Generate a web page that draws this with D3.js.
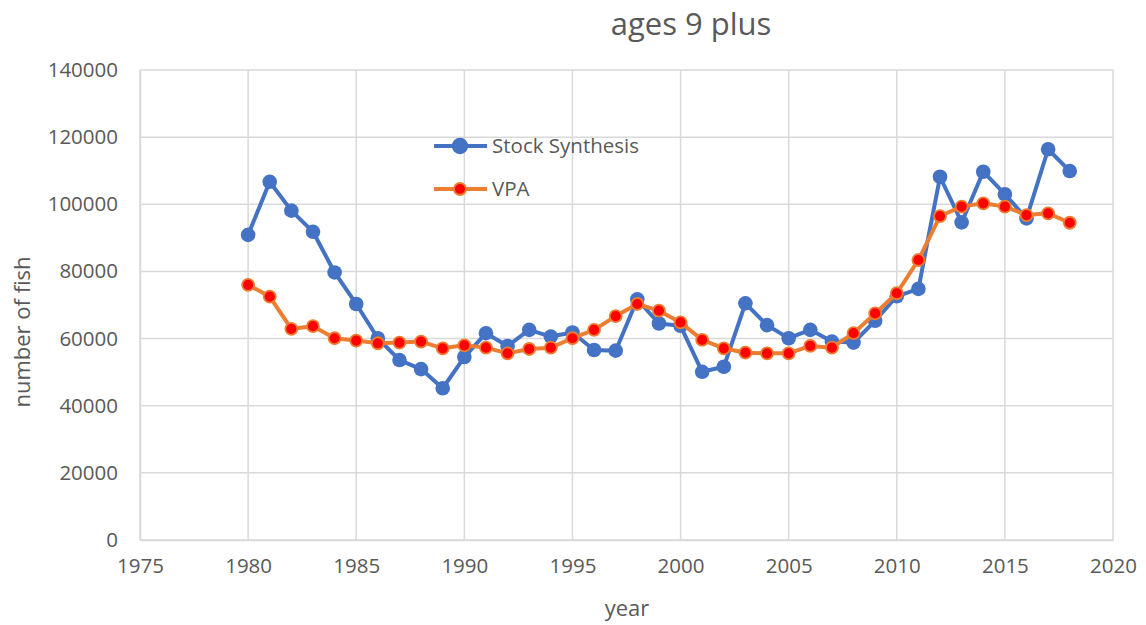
<!DOCTYPE html>
<html>
<head>
<meta charset="utf-8">
<script src="https://cdn.jsdelivr.net/npm/d3@7"></script>
<style>
body { margin: 0; background: #fff; }
text { font-family: "Open Sans", "Noto Sans", sans-serif; fill: #595959; }
</style>
</head>
<body>
<svg width="1146" height="625"></svg>
<script>
var years = d3.range(1980, 2019);
var stockSynthesis = [90900, 106700, 98100, 91800, 79700, 70300, 60100, 53600, 50900, 45200,
    54500, 61600, 57800, 62600, 60600, 61800, 56600, 56400, 71700, 64500,
    63800, 50100, 51600, 70500, 64000, 60100, 62600, 59100, 58800, 65300,
    72600, 74800, 108200, 94600, 109700, 103000, 95800, 116400, 109900];
var vpa = [76000, 72500, 62900, 63700, 60100, 59400, 58600, 58800, 59100, 57100,
    58000, 57300, 55600, 56900, 57300, 60100, 62600, 66700, 70300, 68300,
    64800, 59600, 57100, 55800, 55600, 55600, 57800, 57300, 61600, 67500,
    73500, 83400, 96500, 99300, 100300, 99300, 96800, 97300, 94500];
var xTicks = d3.range(1975, 2021, 5);
var yTicks = d3.range(0, 140001, 20000);

var svg = d3.select('svg');
var pLeft = 140, pRight = 1113, pTop = 70, pBottom = 540;

var x = d3.scaleLinear().domain([1975, 2020]).range([pLeft, pRight]);
var y = d3.scaleLinear().domain([0, 140000]).range([pBottom, pTop]);

// grid
svg.append('g').selectAll('line').data(yTicks).enter().append('line')
    .attr('x1', pLeft).attr('x2', pRight)
    .attr('y1', function (d) { return y(d); }).attr('y2', function (d) { return y(d); })
    .attr('stroke', '#d9d9d9').attr('stroke-width', 1.5);
svg.append('g').selectAll('line').data(xTicks).enter().append('line')
    .attr('y1', pTop).attr('y2', pBottom)
    .attr('x1', function (d) { return x(d); }).attr('x2', function (d) { return x(d); })
    .attr('stroke', '#d9d9d9').attr('stroke-width', 1.5);

// axes
var yAxis = svg.append('g').attr('transform', 'translate(' + pLeft + ',0)')
    .call(d3.axisLeft(y).tickValues(yTicks).tickSize(0).tickPadding(22).tickFormat(d3.format('d')));
var xAxis = svg.append('g').attr('transform', 'translate(0,' + pBottom + ')')
    .call(d3.axisBottom(x).tickValues(xTicks).tickSize(0).tickPadding(18).tickFormat(d3.format('d')));
[yAxis, xAxis].forEach(function (a) {
    a.select('.domain').attr('stroke', '#d9d9d9').attr('stroke-width', 1.5);
    a.selectAll('text').style('font-size', '20.5px').attr('fill', '#595959');
});

// titles
svg.append('text').attr('x', 691).attr('y', 35).attr('text-anchor', 'middle')
    .style('font-size', '31px').text('ages 9 plus');
svg.append('text').attr('x', 627).attr('y', 616).attr('text-anchor', 'middle')
    .style('font-size', '22px').text('year');
svg.append('text').attr('transform', 'translate(30,332) rotate(-90)').attr('text-anchor', 'middle')
    .style('font-size', '22px').text('number of fish');

var line = d3.line().x(function (d, i) { return x(years[i]); }).y(function (d) { return y(d); });

// Stock Synthesis
svg.append('path').datum(stockSynthesis).attr('d', line)
    .attr('fill', 'none').attr('stroke', '#4472C4').attr('stroke-width', 4).attr('stroke-linejoin', 'round');
svg.append('g').selectAll('circle').data(stockSynthesis).enter().append('circle')
    .attr('cx', function (d, i) { return x(years[i]); }).attr('cy', function (d) { return y(d); })
    .attr('r', 7.3).attr('fill', '#4472C4');

// VPA
svg.append('path').datum(vpa).attr('d', line)
    .attr('fill', 'none').attr('stroke', '#ED7D31').attr('stroke-width', 4).attr('stroke-linejoin', 'round');
svg.append('g').selectAll('circle').data(vpa).enter().append('circle')
    .attr('cx', function (d, i) { return x(years[i]); }).attr('cy', function (d) { return y(d); })
    .attr('r', 6).attr('fill', '#FF0000').attr('stroke', '#ED7D31').attr('stroke-width', 1.8);

// legend
var legend = [
    { name: 'Stock Synthesis', color: '#4472C4', fill: '#4472C4', r: 7.3, y: 146 },
    { name: 'VPA', color: '#ED7D31', fill: '#FF0000', r: 6, y: 189 }
];
var lg = svg.append('g').selectAll('g').data(legend).enter().append('g');
lg.append('line').attr('x1', 434).attr('x2', 487)
    .attr('y1', function (d) { return d.y; }).attr('y2', function (d) { return d.y; })
    .attr('stroke', function (d) { return d.color; }).attr('stroke-width', 4);
lg.append('circle').attr('cx', 460).attr('cy', function (d) { return d.y; })
    .attr('r', function (d) { return d.r; }).attr('fill', function (d) { return d.fill; })
    .attr('stroke', function (d) { return d.color; }).attr('stroke-width', 1.8);
lg.append('text').attr('x', 492).attr('y', function (d) { return d.y + 7; })
    .style('font-size', '20.5px').text(function (d) { return d.name; });
</script>
</body>
</html>
